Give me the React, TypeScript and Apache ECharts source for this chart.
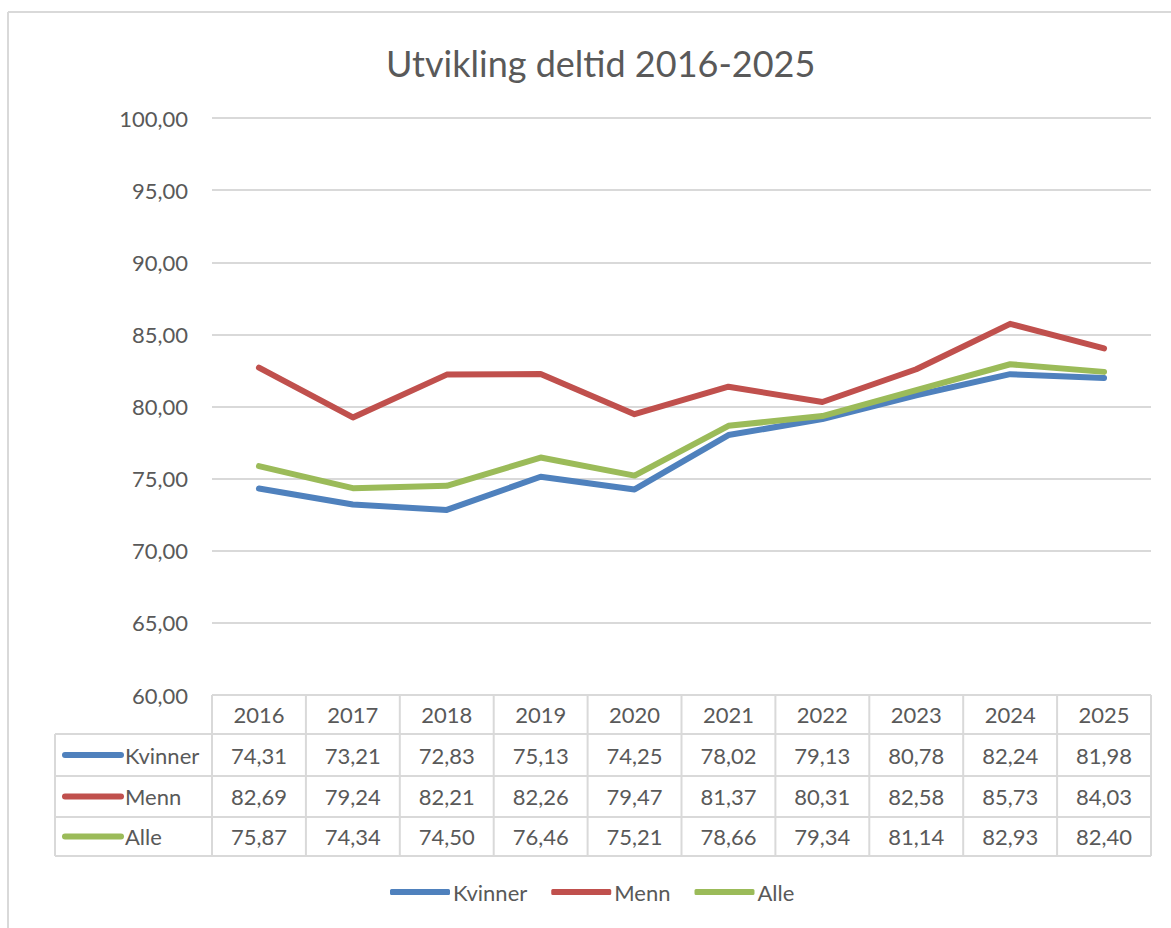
import React, { useEffect, useRef } from "react";
import * as echarts from "echarts";

const years = ["2016", "2017", "2018", "2019", "2020", "2021", "2022", "2023", "2024", "2025"];
const kvinner = [74.31, 73.21, 72.83, 75.13, 74.25, 78.02, 79.13, 80.78, 82.24, 81.98];
const menn = [82.69, 79.24, 82.21, 82.26, 79.47, 81.37, 80.31, 82.58, 85.73, 84.03];
const alle = [75.87, 74.34, 74.5, 76.46, 75.21, 78.66, 79.34, 81.14, 82.93, 82.4];
const seriesNames = ["Kvinner", "Menn", "Alle"];
const seriesColors = ["#4F81BD", "#C0504D", "#9BBB59"];
const seriesData = [kvinner, menn, alle];

const FONT = "Lato, 'Noto Sans', sans-serif";
const TEXT = "#595959";
const GRID = "#D9D9D9";

const fmt = (v: number) => v.toFixed(2).replace(".", ",");

export default function App() {
  const ref = useRef<HTMLDivElement>(null);
  useEffect(() => {
    if (!ref.current) return;
    const chart = echarts.init(ref.current, null, { renderer: "svg" });

    const gLeft = 212;
    const gRight = 1151;
    const gTop = 118;
    const gBottom = 695;
    const colW = (gRight - gLeft) / years.length;
    const tableLeft = 55;
    const rowY = [695, 734, 776, 817, 856];

    const graphic: any[] = [];
    // outer border
    graphic.push({ type: "line", shape: { x1: 8, y1: 12, x2: 1171, y2: 12 }, style: { stroke: GRID, lineWidth: 2 }, silent: true });
    graphic.push({ type: "line", shape: { x1: 8, y1: 12, x2: 8, y2: 928 }, style: { stroke: GRID, lineWidth: 2 }, silent: true });
    // table horizontal lines
    rowY.forEach((y, i) => {
      graphic.push({
        type: "line",
        shape: { x1: i === 0 ? gLeft : tableLeft, y1: y, x2: gRight, y2: y },
        style: { stroke: GRID, lineWidth: 2 },
        silent: true,
      });
    });
    // vertical lines
    graphic.push({ type: "line", shape: { x1: tableLeft, y1: rowY[1], x2: tableLeft, y2: rowY[4] }, style: { stroke: GRID, lineWidth: 2 }, silent: true });
    for (let i = 0; i <= years.length; i++) {
      const x = gLeft + colW * i;
      graphic.push({ type: "line", shape: { x1: x, y1: rowY[0], x2: x, y2: rowY[4] }, style: { stroke: GRID, lineWidth: 2 }, silent: true });
    }
    // header
    years.forEach((yr, i) => {
      graphic.push({
        type: "text",
        x: gLeft + colW * (i + 0.5),
        y: (rowY[0] + rowY[1]) / 2,
        style: { text: yr, fill: TEXT, font: `22px ${FONT}`, align: "center", verticalAlign: "middle" },
        silent: true,
      });
    });
    // rows
    seriesNames.forEach((name, r) => {
      const cy = (rowY[r + 1] + rowY[r + 2]) / 2;
      graphic.push({
        type: "line",
        shape: { x1: 65, y1: cy, x2: 121, y2: cy },
        style: { stroke: seriesColors[r], lineWidth: 6, lineCap: "round" },
        silent: true,
      });
      graphic.push({
        type: "text",
        x: 125,
        y: cy,
        style: { text: name, fill: TEXT, font: `22px ${FONT}`, align: "left", verticalAlign: "middle" },
        silent: true,
      });
      seriesData[r].forEach((v, i) => {
        graphic.push({
          type: "text",
          x: gLeft + colW * (i + 0.5),
          y: cy,
          style: { text: fmt(v), fill: TEXT, font: `22px ${FONT}`, align: "center", verticalAlign: "middle" },
          silent: true,
        });
      });
    });

    chart.setOption({
      animation: false,
      backgroundColor: "#ffffff",
      title: {
        text: "Utvikling deltid 2016-2025",
        left: 381,
        top: 40,
        textStyle: { fontFamily: FONT, fontSize: 36, fontWeight: "normal", color: TEXT },
      },
      legend: {
        bottom: 20,
        left: 385,
        icon: "roundRect",
        itemWidth: 60,
        itemHeight: 6,
        itemGap: 24,
        textStyle: { fontFamily: FONT, fontSize: 22, color: TEXT, padding: [0, 0, 0, -2] },
        data: seriesNames,
      },
      grid: { left: gLeft, right: 1171 - gRight, top: gTop, bottom: 928 - gBottom, containLabel: false },
      xAxis: {
        type: "category",
        data: years,
        boundaryGap: true,
        axisLine: { show: false },
        axisTick: { show: false },
        axisLabel: { show: false },
      },
      yAxis: {
        type: "value",
        min: 60,
        max: 100,
        interval: 5,
        axisLine: { show: false },
        axisTick: { show: false },
        axisLabel: {
          formatter: (v: number) => fmt(v),
          color: TEXT,
          fontFamily: FONT,
          fontSize: 22,
          margin: 24,
        },
        splitLine: { lineStyle: { color: GRID, width: 2 } },
      },
      series: seriesNames.map((name, i) => ({
        name,
        type: "line",
        data: seriesData[i],
        showSymbol: false,
        symbol: "none",
        color: seriesColors[i],
        lineStyle: { width: 6, color: seriesColors[i], cap: "round", join: "round" },
      })),
      graphic,
    });

    return () => chart.dispose();
  }, []);
  return <div ref={ref} style={{ position: "fixed", left: 0, top: 0, width: 1171, height: 928, background: "#fff" }} />;
}
